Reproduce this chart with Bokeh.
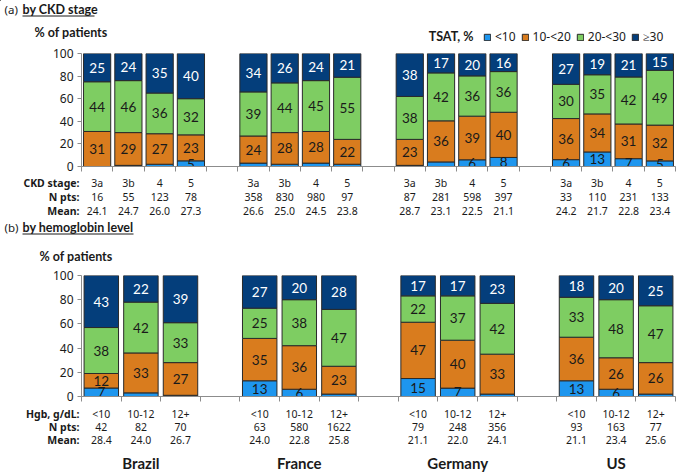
import numpy as np
from bokeh.plotting import figure
from bokeh.models import (Range1d, FixedTicker, ColumnDataSource, Label, Legend, LegendItem,
                          Arrow)
from bokeh.layouts import column
from bokeh.core.properties import value
from bokeh.embed import file_html
from bokeh.resources import INLINE

# ---------------- data ----------------
countries = ["Brazil", "France", "Germany", "US"]
tsat_bins = ["<10", "10-<20", "20-<30", "\u226530"]
colors = ["#1E96EE", "#D97C1E", "#7ECD62", "#043E7B"]

# (a) by CKD stage
ckd_stages = ["3a", "3b", "4", "5"]
ckd_npts = [16, 55, 123, 78, 358, 830, 980, 97, 87, 281, 598, 397, 33, 110, 231, 133]
ckd_mean = [24.1, 24.7, 26.0, 27.3, 26.6, 25.0, 24.5, 23.8, 28.7, 23.1, 22.5, 21.1,
            24.2, 21.7, 22.8, 23.4]
ckd_lt10 = [0, 1, 2, 5, 3, 2, 3, 2, 1, 4, 6, 8, 6, 13, 7, 5]
ckd_10_20 = [31, 29, 27, 23, 24, 28, 28, 22, 23, 36, 39, 40, 36, 34, 31, 32]
ckd_20_30 = [44, 46, 36, 32, 39, 44, 45, 55, 38, 42, 36, 36, 30, 35, 42, 49]
ckd_ge30 = [25, 24, 35, 40, 34, 26, 24, 21, 38, 17, 20, 16, 27, 19, 21, 15]

# (b) by hemoglobin level
hgb_levels = ["<10", "10-12", "12+"]
hgb_npts = [42, 82, 70, 63, 580, 1622, 79, 248, 356, 93, 163, 77]
hgb_mean = [28.4, 24.0, 26.7, 24.0, 22.8, 25.8, 21.1, 22.0, 24.1, 21.1, 23.4, 25.6]
hgb_lt10 = [7, 3, 1, 13, 6, 2, 15, 7, 2, 13, 6, 2]
hgb_10_12 = [12, 33, 27, 35, 36, 23, 47, 40, 33, 36, 26, 26]
hgb_20_30 = [38, 42, 33, 25, 38, 47, 22, 37, 42, 33, 48, 47]
hgb_ge30 = [43, 22, 39, 27, 20, 28, 17, 17, 23, 18, 20, 25]

# ---------------- styles / layout ----------------
W = 680
FL, FR = 81, 675
TXT = "#1a1a1a"
ROWFONT = "Noto Sans"
BARFONT = "Lato"
EDGE = "#2a2a2a"
AXC = "#8c8c8c"


def no_align(p):
    try:
        p.frame_align = False
    except Exception:
        pass
    return p


def blank(height, x_range):
    p = figure(width=W, height=height, x_range=x_range, y_range=Range1d(height, 0),
               output_backend="svg", toolbar_location=None, min_border=0,
               x_axis_location=None, y_axis_location=None)
    p.outline_line_color = None
    p.xgrid.visible = False
    p.ygrid.visible = False
    return no_align(p)


def header(height, ty, tag, title, ul_w, pct_xy, legend=False):
    p = blank(height, Range1d(0, W))
    p.add_layout(Label(x=4, y=ty, text=tag, text_align="left", text_baseline="middle",
                       text_font=ROWFONT, text_font_size="11.5px", text_color=TXT))
    p.add_layout(Label(x=22, y=ty, text=title, text_align="left", text_baseline="middle",
                       text_font=BARFONT, text_font_style="bold", text_font_size="12.5px",
                       text_color=TXT))
    p.add_layout(Arrow(x_start=22, y_start=ty + 6.5, x_end=22 + ul_w, y_end=ty + 6.5,
                       end=None, line_color=TXT, line_width=1))
    p.add_layout(Label(x=pct_xy[0], y=pct_xy[1], text="% of patients", text_align="left",
                       text_baseline="middle", text_font=BARFONT, text_font_style="bold",
                       text_font_size="12.5px", text_color=TXT))
    if legend:
        p.add_layout(Label(x=473, y=36, text="TSAT, %", text_align="right",
                           text_baseline="middle", text_font=BARFONT,
                           text_font_style="bold", text_font_size="12.5px", text_color=TXT))
        # swatch renderers for the legend (kept outside the visible range)
        rs = [p.vbar(x=[-50], top=[0], bottom=[0], width=1, fill_color=c, line_color=EDGE)
              for c in colors]
        lg = Legend(items=[LegendItem(label=t, renderers=[r]) for t, r in zip(tsat_bins, rs)],
                    location=(483, 1), orientation="horizontal",
                    padding=0, margin=0, spacing=5, label_standoff=4,
                    glyph_width=8, glyph_height=8, label_height=12,
                    label_text_font=ROWFONT, label_text_font_size="12px",
                    label_text_color=TXT, border_line_color=None, background_fill_alpha=0)
        p.add_layout(lg)
    return p


def bars(cats, series, fh):
    ncat = len(cats)
    ng = len(countries)
    nslots = ng * (ncat + 1) - 1
    xs = [g * (ncat + 1) + j + 0.5 for g in range(ng) for j in range(ncat)]
    arr = np.array(series, dtype=float)
    pct = arr / arr.sum(axis=0) * 100
    data = dict(x=xs)
    keys = []
    for k in range(4):
        data[f"s{k}"] = pct[k]
        keys.append(f"s{k}")
    src = ColumnDataSource(data)
    top, bot = 7, 8
    p = figure(width=W, height=top + fh + bot, x_range=Range1d(0, nslots),
               y_range=Range1d(0, 100), output_backend="svg", toolbar_location=None,
               min_border_left=FL, min_border_right=W - FR, min_border_top=top,
               min_border_bottom=bot)
    no_align(p)
    p.outline_line_color = None
    p.xgrid.visible = False
    p.ygrid.visible = False

    p.vbar_stack(keys, x="x", width=0.87, fill_color=colors, line_color=EDGE,
                 line_width=1, source=src)

    cum = np.cumsum(pct, axis=0)
    mid = cum - pct / 2
    lx, ly, lt, lc = [], [], [], []
    for k in range(4):
        for i in range(arr.shape[1]):
            if arr[k, i] >= 5:
                lx.append(xs[i]); ly.append(mid[k, i]); lt.append(str(int(arr[k, i])))
                lc.append("white" if k == 3 else TXT)
    p.text(x="x", y="y", text="t", text_color="c",
           source=ColumnDataSource(dict(x=lx, y=ly, t=lt, c=lc)),
           text_font=value(BARFONT), text_font_size="13.5px", text_align="center",
           text_baseline="middle")

    p.yaxis.ticker = FixedTicker(ticks=[0, 20, 40, 60, 80, 100])
    p.yaxis.major_label_text_font = ROWFONT
    p.yaxis.major_label_text_font_size = "12px"
    p.yaxis.major_label_text_color = TXT
    p.yaxis.major_tick_in = 0
    p.yaxis.major_tick_out = 4
    p.yaxis.minor_tick_out = 0
    p.yaxis.minor_tick_in = 0
    p.yaxis.axis_line_color = AXC
    p.yaxis.major_tick_line_color = AXC
    p.yaxis.major_label_standoff = 4

    p.xaxis.ticker = FixedTicker(ticks=[], minor_ticks=list(range(nslots + 1)))
    p.xaxis.minor_tick_in = 0
    p.xaxis.minor_tick_out = 5
    p.xaxis.major_tick_out = 0
    p.xaxis.axis_line_color = AXC
    p.xaxis.minor_tick_line_color = AXC
    return p, xs, nslots


def rows(height, cats, npts, means, xs, nslots, heads, rows_y, names_y=None):
    sw = (FR - FL) / nslots
    p = blank(height, Range1d(-FL / sw, (W - FL) / sw))
    ng = len(countries)
    ncat = len(cats)
    rowvals = [cats * ng, [str(v) for v in npts], [f"{v:.1f}" for v in means]]
    for head, ry, vals in zip(heads, rows_y, rowvals):
        p.text(x=[(79 - FL) / sw], y=[ry], text=[head], text_align="right",
               text_baseline="middle", text_font=value(ROWFONT), text_font_style="bold",
               text_font_size="10.5px", text_color=TXT)
        p.text(x=xs, y=[ry] * len(xs), text=vals, text_align="center",
               text_baseline="middle", text_font=value(ROWFONT), text_font_size="10.5px",
               text_color=TXT)
    if names_y is not None:
        cx = [g * (ncat + 1) + ncat / 2 for g in range(ng)]
        p.text(x=cx, y=[names_y] * ng, text=countries, text_align="center",
               text_baseline="middle", text_font=value(BARFONT), text_font_style="bold",
               text_font_size="15px", text_color=TXT)
    return p


hA = header(46, 9, "(a)", "by CKD stage", 72, (34, 32), legend=True)
bA, xsA, nA = bars(ckd_stages, [ckd_lt10, ckd_10_20, ckd_20_30, ckd_ge30], 113)
rA = rows(45, ckd_stages, ckd_npts, ckd_mean, xsA, nA, ["CKD stage:", "N pts:", "Mean:"],
          [8, 22, 36])
hB = header(49, 8, "(b)", "by hemoglobin level", 111, (39, 37))
bB, xsB, nB = bars(hgb_levels, [hgb_lt10, hgb_10_12, hgb_20_30, hgb_ge30], 121)
rB = rows(70, hgb_levels, hgb_npts, hgb_mean, xsB, nB, ["Hgb, g/dL:", "N pts:", "Mean:"],
          [9, 22, 35], names_y=58)

layout = column(hA, bA, rA, hB, bB, rB)
open("out.html", "w").write(file_html(layout, INLINE))
